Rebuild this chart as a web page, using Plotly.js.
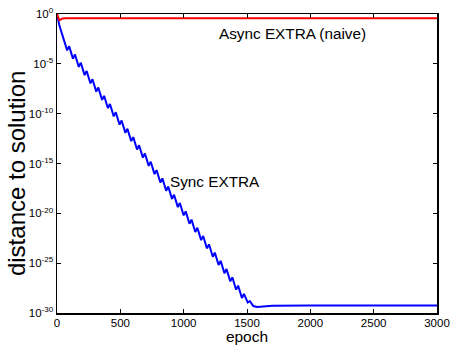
<!DOCTYPE html>
<html>
<head>
<meta charset="utf-8">
<script src="https://cdn.plot.ly/plotly-3.0.1.min.js"></script>
<style>html,body{margin:0;padding:0;background:#fff;}#plot{width:452px;height:345px;}</style>
</head>
<body>
<div id="plot"></div>
<script>
// Sync EXTRA: epoch and log10(distance to solution)
const syncEpoch = [0, 8, 18, 30, 50, 80, 96, 126, 142, 172, 188, 218, 234, 264, 280, 310, 326, 356, 372, 402, 418, 448, 464, 494, 510, 540, 556, 586, 602, 632, 648, 678, 694, 724, 740, 770, 786, 816, 832, 862, 878, 908, 924, 954, 970, 1000, 1016, 1046, 1062, 1092, 1108, 1138, 1154, 1184, 1200, 1230, 1246, 1276, 1292, 1322, 1338, 1368, 1384, 1414, 1430, 1460, 1476, 1506, 1522, 1550, 1580, 1620, 1700, 2000, 2500, 3000];
const syncLog10 = [0, -0.6, -1.1, -1.6, -2.41, -3.65, -3.24, -4.48, -4.07, -5.31, -4.89, -6.13, -5.72, -6.96, -6.55, -7.79, -7.38, -8.62, -8.21, -9.45, -9.03, -10.27, -9.86, -11.10, -10.69, -11.93, -11.52, -12.76, -12.35, -13.59, -13.17, -14.41, -14.00, -15.24, -14.83, -16.07, -15.66, -16.90, -16.49, -17.73, -17.31, -18.55, -18.14, -19.38, -18.97, -20.21, -19.80, -21.04, -20.63, -21.87, -21.45, -22.69, -22.28, -23.52, -23.11, -24.35, -23.94, -25.18, -24.77, -26.01, -25.59, -26.83, -26.42, -27.66, -27.25, -28.49, -28.08, -28.95, -28.8, -29.3, -29.4, -29.35, -29.28, -29.25, -29.25, -29.25];
// Async EXTRA (naive)
const asyncEpoch = [0, 8, 18, 30, 45, 70, 100, 200, 1000, 2000, 3000];
const asyncLog10 = [0, -0.35, -0.6, -0.55, -0.45, -0.42, -0.42, -0.42, -0.42, -0.42, -0.42];
// y tick labels
const yTickExp = [0, -5, -10, -15, -20, -25, -30];
const yTickText = ['10<sup>0</sup>', '10<sup>-5</sup>', '10<sup>-10</sup>', '10<sup>-15</sup>', '10<sup>-20</sup>', '10<sup>-25</sup>', '10<sup>-30</sup>'];
const xTickVals = [0, 500, 1000, 1500, 2000, 2500, 3000];

const font = 'Liberation Sans, Arial, Helvetica, sans-serif';
const traces = [
  {x: syncEpoch, y: syncLog10.map(v => Math.pow(10, v)), mode: 'lines', line: {color: '#0000ff', width: 2}, hoverinfo: 'skip'},
  {x: asyncEpoch, y: asyncLog10.map(v => Math.pow(10, v)), mode: 'lines', line: {color: '#ff0000', width: 2}, hoverinfo: 'skip'}
];
const layout = {
  width: 452, height: 345,
  margin: {l: 57, r: 15, t: 14, b: 32},
  paper_bgcolor: '#fff', plot_bgcolor: '#fff',
  showlegend: false,
  font: {family: font, color: '#000', size: 11.5},
  xaxis: {
    range: [0, 3000], tickvals: xTickVals, ticktext: xTickVals.map(String),
    showgrid: false, zeroline: false, showline: true, linecolor: '#000', linewidth: 1.5,
    mirror: 'ticks', ticks: 'inside', ticklen: 4, tickcolor: '#000', tickwidth: 1,
    tickfont: {size: 11.5, family: font}, ticklabelstandoff: -1,
    title: {text: 'epoch', font: {size: 15.5, family: font}, standoff: 3}
  },
  yaxis: {
    type: 'log', range: [-30, 0], tickvals: yTickExp.map(v => Math.pow(10, v)), ticktext: yTickText,
    showgrid: false, zeroline: false, showline: true, linecolor: '#000', linewidth: 1.5,
    mirror: 'ticks', ticks: 'inside', ticklen: 4, tickcolor: '#000', tickwidth: 1,
    tickfont: {size: 11.5, family: font}
  },
  annotations: [
    {text: 'distance to solution', xref: 'paper', yref: 'paper', x: -0.105, y: 0.465, xanchor: 'center', yanchor: 'middle', textangle: -90, showarrow: false, font: {size: 24, family: font}},
    {text: 'Async EXTRA (naive)', x: 1859, y: -1.98, xref: 'x', yref: 'y', showarrow: false, font: {size: 15.3, family: font}},
    {text: 'Sync EXTRA', x: 1245, y: -16.8, xref: 'x', yref: 'y', showarrow: false, font: {size: 15.3, family: font}}
  ]
};
Plotly.newPlot('plot', traces, layout, {staticPlot: true, displayModeBar: false});
</script>
</body>
</html>
